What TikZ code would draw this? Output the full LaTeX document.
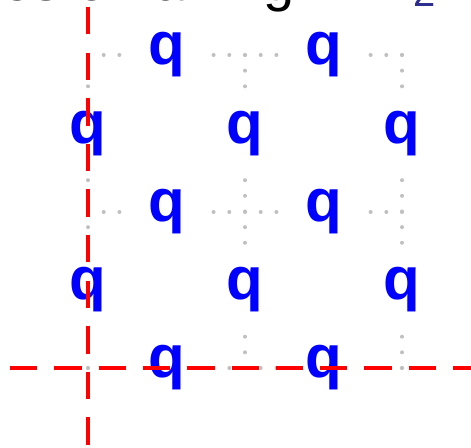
\documentclass[tikz,border=0pt]{standalone}
\usepackage{fontspec}
\setmainfont{Liberation Sans}
\usetikzlibrary{calc}
\definecolor{qblue}{RGB}{0,0,255}
\definecolor{dotgray}{RGB}{192,192,192}
\definecolor{cutred}{RGB}{255,0,0}
\definecolor{navyc}{RGB}{45,45,145}
\begin{document}
\begin{tikzpicture}[x=1pt,y=1pt,
  dotline/.style={draw=dotgray, line width=4pt, line cap=round, dash pattern=on 0pt off 15.7pt},
  dotlinev/.style={draw=dotgray, line width=4pt, line cap=round, dash pattern=on 0pt off 15.65pt},
  qlab/.style={text=qblue, fill=white, inner sep=18pt, font=\fontsize{60}{60}\selectfont\bfseries},
  cuth/.style={draw=cutred, line width=3.5pt, dash pattern=on 27.3pt off 17pt},
  cutv/.style={draw=cutred, line width=3.5pt, dash pattern=on 27.5pt off 18.1pt},
  titletext/.style={anchor=base west, inner sep=0pt, font=\fontsize{56}{60}\selectfont}]
\useasboundingbox (0,0) rectangle (471,447);
% title (mostly cut off at the top)
\node[titletext] (title) at (-126.2,446.2) {Phases on a ring in Z\kern10pt\raisebox{-6pt}{\fontsize{40}{40}\selectfont\color{navyc}2}};
% lattice vertices
\coordinate (a1) at (88,392);  \coordinate (a2) at (245,392);  \coordinate (a3) at (402,392);
\coordinate (b1) at (88,235);  \coordinate (b2) at (245,235);  \coordinate (b3) at (402,235);
\coordinate (c1) at (88,79);   \coordinate (c2) at (245,79);   \coordinate (c3) at (402,79);
% dotted lattice
\draw[dotline] (a1) -- (a3);
\draw[dotline] (b1) -- (b3);
\draw[dotline] (c1) -- (c3);
\draw[dotlinev] (a1) -- (c1);
\draw[dotlinev] (a2) -- (c2);
\draw[dotlinev] (a3) -- (c3);
% charges on edges
\node[qlab] (q1)  at ($(a1)!0.5!(a2)$) {q};
\node[qlab] (q2)  at ($(a2)!0.5!(a3)$) {q};
\node[qlab] (q3)  at ($(a1)!0.5!(b1)$) {q};
\node[qlab] (q4)  at ($(a2)!0.5!(b2)$) {q};
\node[qlab] (q5)  at ($(a3)!0.5!(b3)$) {q};
\node[qlab] (q6)  at ($(b1)!0.5!(b2)$) {q};
\node[qlab] (q7)  at ($(b2)!0.5!(b3)$) {q};
\node[qlab] (q8)  at ($(b1)!0.5!(c1)$) {q};
\node[qlab] (q9)  at ($(b2)!0.5!(c2)$) {q};
\node[qlab] (q10) at ($(b3)!0.5!(c3)$) {q};
\node[qlab] (q11) at ($(c1)!0.5!(c2)$) {q};
\node[qlab] (q12) at ($(c2)!0.5!(c3)$) {q};
% red dashed cut lines
\coordinate (hL) at (10,79);  \coordinate (hR) at (482,79);
\coordinate (vT) at (88,440); \coordinate (vB) at (88,-6);
\draw[cuth] (hL) -- (hR);
\draw[cutv] (vT) -- (vB);
\end{tikzpicture}
\end{document}
